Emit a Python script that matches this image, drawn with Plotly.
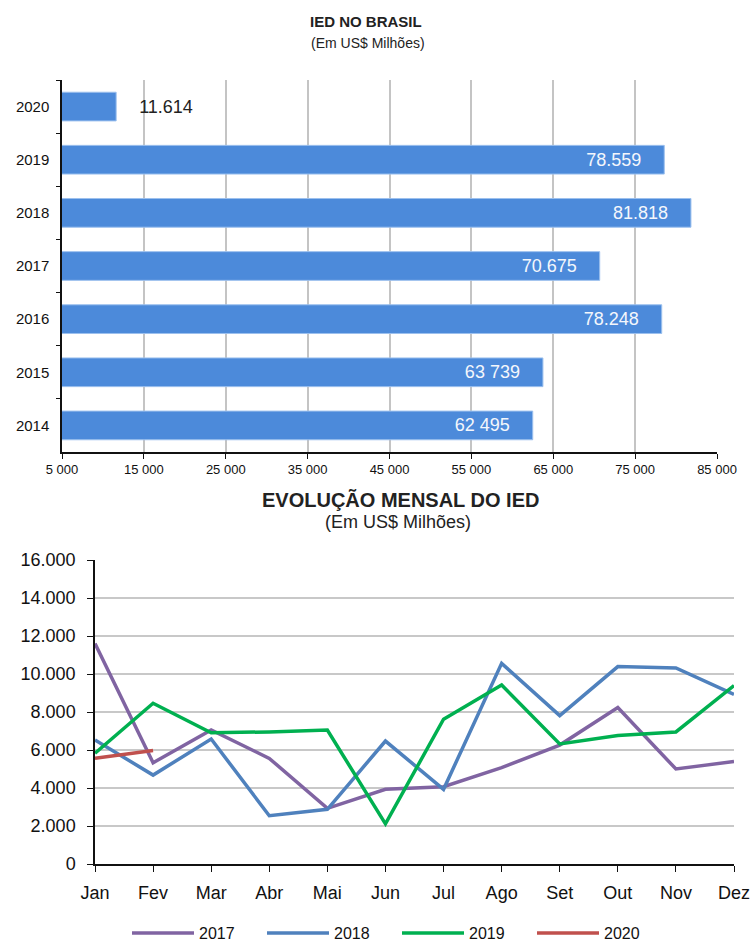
import plotly.graph_objects as go

# ---------------- data: top chart ----------------
years = ["2014", "2015", "2016", "2017", "2018", "2019", "2020"]
ied_total = [62495, 63739, 78248, 70675, 81818, 78559, 11614]
ied_labels = ["62 495", "63 739", "78.248", "70.675", "81.818", "78.559", "11.614"]
label_inside = [True, True, True, True, True, True, False]
x_ticks = [5000, 15000, 25000, 35000, 45000, 55000, 65000, 75000, 85000]
x_tick_labels = ["5 000", "15 000", "25 000", "35 000", "45 000", "55 000", "65 000", "75 000", "85 000"]

# ---------------- data: bottom chart ----------------
months = ["Jan", "Fev", "Mar", "Abr", "Mai", "Jun", "Jul", "Ago", "Set", "Out", "Nov", "Dez"]
s2017 = [11600, 5330, 7050, 5560, 2930, 3930, 4070, 5070, 6260, 8230, 5000, 5390]
s2018 = [6530, 4680, 6580, 2540, 2880, 6470, 3930, 10560, 7810, 10390, 10320, 8930]
s2019 = [5830, 8460, 6910, 6950, 7050, 2110, 7620, 9420, 6320, 6760, 6950, 9390]
s2020 = [5560, 5970]
y_ticks = [0, 2000, 4000, 6000, 8000, 10000, 12000, 14000, 16000]
y_tick_labels = ["0", "2.000", "4.000", "6.000", "8.000", "10.000", "12.000", "14.000", "16.000"]

FONT = "Liberation Sans, Arial, sans-serif"
W, H = 753, 943

def py(pix):
    return 1 - pix / H

def px(pix):
    return pix / W

fig = go.Figure()

templates = [("%{text}\u00a0\u00a0\u00a0\u00a0" if ins else "\u00a0\u00a0\u00a0\u00a0%{text}") for ins in label_inside]
positions = ["inside" if ins else "outside" for ins in label_inside]

fig.add_trace(go.Bar(
    x=ied_total, y=years, orientation="h",
    text=ied_labels, texttemplate=templates, textposition=positions,
    insidetextanchor="end",
    insidetextfont=dict(color="#f4f7fc", size=18, family=FONT),
    outsidetextfont=dict(color="#222222", size=18, family=FONT),
    marker=dict(color="#4c8ada", line=dict(color="#9cc0ee", width=1)),
    width=0.54, showlegend=False, xaxis="x", yaxis="y", cliponaxis=False,
    hoverinfo="skip",
))

series = [("2017", s2017, "#8064A2"), ("2018", s2018, "#4F81BD"),
          ("2019", s2019, "#00B050"), ("2020", s2020, "#C0504D")]
for name, vals, col in series:
    fig.add_trace(go.Scatter(
        x=months[:len(vals)], y=vals, mode="lines", name=name,
        line=dict(color=col, width=3.5), xaxis="x2", yaxis="y2",
    ))

def title_ann(text, x, y, size):
    return dict(text=text, x=px(x), y=py(y), xref="paper", yref="paper",
                xanchor="center", yanchor="middle", showarrow=False,
                font=dict(size=size, family=FONT, color="#222222"))

fig.update_layout(
    width=W, height=H,
    margin=dict(l=0, r=0, t=0, b=0, autoexpand=False),
    paper_bgcolor="white", plot_bgcolor="white",
    font=dict(family=FONT, color="#222222"),
    xaxis=dict(
        domain=[px(62), px(717)], anchor="y", range=[5000, 85000], automargin=False,
        tickvals=x_ticks, ticktext=x_tick_labels,
        tickfont=dict(size=13, family=FONT, color="#111111"),
        showgrid=True, gridcolor="#c4c4c4", gridwidth=1.5,
        showline=True, linecolor="#111111", linewidth=1.5,
        ticks="outside", ticklen=5, tickcolor="#111111", zeroline=False,
        fixedrange=True,
    ),
    yaxis=dict(
        domain=[py(452), py(80)], anchor="x", type="category", automargin=False,
        categoryorder="array", categoryarray=years,
        tickfont=dict(size=15, family=FONT, color="#111111"),
        showline=True, linecolor="#111111", linewidth=1.5,
        ticks="outside", ticklen=4, tickcolor="#111111", tickson="boundaries",
        ticklabelstandoff=8, showgrid=False, fixedrange=True,
    ),
    xaxis2=dict(
        domain=[px(95), px(734)], anchor="y2", type="category", automargin=False,
        categoryorder="array", categoryarray=months, range=[0, 11],
        tickfont=dict(size=18, family=FONT, color="#111111"),
        showline=True, linecolor="#111111", linewidth=1.5,
        ticks="outside", ticklen=6, tickcolor="#111111",
        ticklabelstandoff=6, showgrid=False, fixedrange=True,
    ),
    yaxis2=dict(
        domain=[py(864), py(560)], anchor="x2", range=[0, 16000], automargin=False,
        tickvals=y_ticks, ticktext=y_tick_labels,
        tickfont=dict(size=18, family=FONT, color="#111111"),
        showgrid=True, gridcolor="#c8c8c8", gridwidth=1.5,
        showline=True, linecolor="#111111", linewidth=1.5,
        ticks="outside", ticklen=6, tickcolor="#111111",
        ticklabelstandoff=8, zeroline=False, fixedrange=True,
    ),
    legend=dict(
        orientation="h", x=px(397), xanchor="center", y=py(933), yanchor="middle",
        font=dict(size=16, family=FONT, color="#111111"),
        itemwidth=62, entrywidth=58, bgcolor="rgba(0,0,0,0)",
    ),
    annotations=[
        title_ann("<b>IED NO BRASIL</b>", 366, 22, 15),
        title_ann("(Em US$ Milhões)", 368, 43, 14),
        title_ann("<b>EVOLUÇÃO MENSAL DO IED</b>", 400, 500, 20),
        title_ann("(Em US$ Milhões)", 398, 522, 18),
    ],
)

fig.write_html("out.html", config={"displayModeBar": False},
               post_script="document.body.style.margin='0';document.body.style.overflow='hidden';")
